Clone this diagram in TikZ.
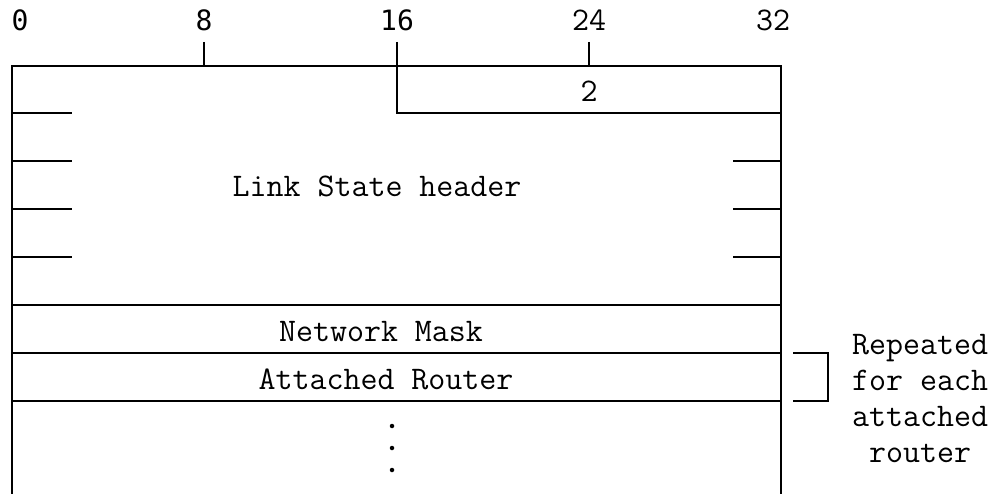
\documentclass[tikz,border=0pt]{standalone}
\usepackage{fontspec}
\newfontfamily\numfont{DejaVu Sans Mono}
\usetikzlibrary{positioning}

\begin{document}
\begin{tikzpicture}[
  x=1pt, y=-1pt,
  font=\fontsize{33}{36}\selectfont\ttfamily,
  rule/.style={line width=1.5pt},
  field/.style={anchor=base, inner sep=0pt},
  bitnum/.style={anchor=base, inner sep=0pt, font=\fontsize{28}{36}\selectfont\numfont},
  dotmark/.style={circle, fill, inner sep=0pt, minimum size=4.5pt}
]
\useasboundingbox (0,0) rectangle (998,494);

% bit numbers along the top
\node[bitnum] (b0)  at (20,31)  {0};
\node[bitnum] (b8)  at (204,31) {8};
\node[bitnum] (b16) at (397,31) {16};
\node[field]  (b24) at (589,31) {24};
\node[field]  (b32) at (773,31) {32};

% outer frame, open at the bottom
\draw[rule] (12,494) -- (12,66) -- (781,66) -- (781,494);
\draw[rule] (204,42) -- (204,66);
\draw[rule] (589,42) -- (589,66);
\draw[rule] (397,42) -- (397,113) -- (781,113);

% broken rows of the header
\foreach \y in {113,161,209,257}
  \draw[rule] (12,\y) -- (72,\y);
\foreach \y in {161,209,257}
  \draw[rule] (733,\y) -- (781,\y);

% full rows
\foreach \y in {305,353,401}
  \draw[rule] (12,\y) -- (781,\y);

\node[field] (ls)   at (589,102) {2};
\node[field] (hdr)  at (377,197) {Link State header};
\node[field] (mask) at (381,341) {Network Mask};
\node[field] (rtr)  at (386,389) {Attached Router};

\foreach \y [count=\i] in {426,448,470}
  \node[dotmark] (dot\i) at (392,\y) {};

% bracket for the repeated part
\draw[rule] (793,353) -- (828,353) -- (828,401) -- (793,401);
\node[anchor=north west, inner sep=0pt, align=left] (rep) at (852,334)
  {Repeated\\for each\\attached\\\ router};
\end{tikzpicture}
\end{document}
